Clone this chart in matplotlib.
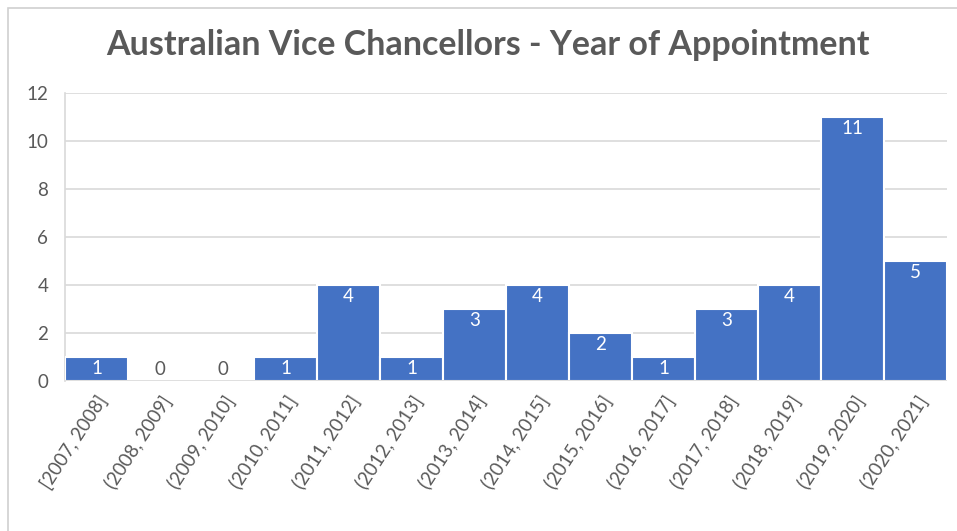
import matplotlib
matplotlib.use("Agg")
import matplotlib.pyplot as plt
from matplotlib.patches import Rectangle

categories = ["[2007, 2008]", "(2008, 2009]", "(2009, 2010]", "(2010, 2011]",
              "(2011, 2012]", "(2012, 2013]", "(2013, 2014]", "(2014, 2015]",
              "(2015, 2016]", "(2016, 2017]", "(2017, 2018]", "(2018, 2019]",
              "(2019, 2020]", "(2020, 2021]"]
counts = [1, 0, 0, 1, 4, 1, 3, 4, 2, 1, 3, 4, 11, 5]
yticks = [0, 2, 4, 6, 8, 10, 12]

plt.rcParams['font.family'] = ['Lato', 'DejaVu Sans']
fig = plt.figure(figsize=(9.57, 5.31), dpi=100)
ax = fig.add_axes([0.0679, 0.2825, 0.9216, 0.5424])

x = list(range(len(categories)))
bars = ax.bar(x, counts, width=1.0, color="#4472C4", edgecolor="white", linewidth=1.5, zorder=3)
ax.set_xlim(-0.5, len(categories) - 0.5)
ax.set_ylim(0, 12)
ax.set_yticks(yticks)
ax.set_yticklabels([str(t) for t in yticks], fontsize=13.5, color="#595959")
ax.set_xticks(x)
ax.set_xticklabels(categories, rotation=57, ha="right", rotation_mode="anchor",
                   fontsize=13.5, color="#595959")
ax.tick_params(axis="both", length=0, pad=8)
ax.tick_params(axis="y", pad=12)
ax.grid(axis="y", color="#D9D9D9", linewidth=1.2, zorder=0)
for s in ["top", "right", "bottom"]:
    ax.spines[s].set_visible(False)
ax.spines["left"].set_color("#D9D9D9")
ax.spines["left"].set_linewidth(1.2)
ax.axhline(0, color="#D9D9D9", linewidth=1.2, zorder=4)

for xi, c in zip(x, counts):
    if c > 0:
        ax.text(xi, c - 0.12, str(c), ha="center", va="top", color="white",
                fontsize=13.5, zorder=5)
    else:
        ax.text(xi, 0.12, str(c), ha="center", va="bottom", color="#595959",
                fontsize=13.5, zorder=5)

fig.text(0.51, 0.915, "Australian Vice Chancellors - Year of Appointment",
         ha="center", va="center", fontsize=24.5, fontweight="bold", color="#595959")

fig.patches.append(Rectangle((0.008, -0.05), 1.2, 1.035, transform=fig.transFigure,
                             fill=False, edgecolor="#D0D0D0", linewidth=1.2))

fig.savefig("out.png", dpi=100)
